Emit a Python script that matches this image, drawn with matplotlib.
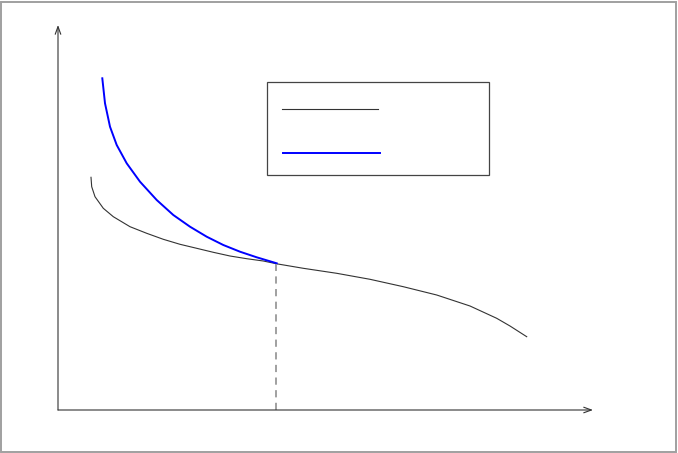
import matplotlib
matplotlib.use("Agg")
from matplotlib import pyplot as plt
from matplotlib.patches import Rectangle

# curve samples (x to the right of the origin, y up from it)
black_x = [33, 33.7, 37, 45.3, 55.3, 72, 88.7, 105.3, 122, 138.7, 155.3, 172, 188.7, 205.3,
           218.7, 245.3, 278.7, 312, 345.3, 378.7, 412, 438.7, 452, 468.7]
black_y = [232.7, 223.3, 213.3, 201.7, 193.3, 183.3, 176.7, 170.7, 165.7, 161.7, 157.7, 154, 151.3, 149,
           146.2, 141.7, 136.7, 130.7, 123.3, 115, 104, 91.7, 84, 73.3]
blue_x = [44.3, 47, 52, 58.7, 68.7, 82, 98.7, 115.3, 132, 148.7, 165.3, 182, 198.7, 218.7]
blue_y = [331.7, 306.7, 283.3, 265, 246.7, 228.3, 210, 195, 183.3, 173.3, 165, 158.3, 152.7, 146.7]
split_x = 218
x_end = 535
y_end = 385

fig = plt.figure(figsize=(6.78, 4.53), dpi=100)
ax = fig.add_axes([0, 0, 1, 1])
ax.set_xlim(-58, 620)
ax.set_ylim(-43, 410)
ax.axis("off")

# outer frame
fig.patches.append(Rectangle((0.5 / 678, 1.5 / 453), 675.5 / 678, 449.5 / 453,
                             transform=fig.transFigure, fill=False,
                             edgecolor="#a0a0a0", linewidth=1.4))

# axes with arrows
arrow = dict(arrowstyle="->,head_length=0.55,head_width=0.2", color="#333333",
             linewidth=0.8, shrinkA=0, shrinkB=0)
ax.annotate("", xy=(x_end, 0), xytext=(0, 0), arrowprops=arrow)
ax.annotate("", xy=(0, y_end), xytext=(0, 0), arrowprops=arrow)

ax.plot(black_x, black_y, color="#333333", linewidth=0.8)
ax.plot(blue_x, blue_y, color="#0000ff", linewidth=1.4)
ax.plot([split_x, split_x], [0, black_y[14]], color="#999999", linewidth=1.3,
        linestyle=(0, (4, 3)))

# legend box (no text)
px = lambda x, y: (x - 58, 410 - y)
ax.add_patch(Rectangle(px(267, 175), 222, 93, fill=False, edgecolor="#444444", linewidth=0.9))
ax.plot(*zip(px(282, 109), px(378, 109)), color="#333333", linewidth=0.8)
ax.plot(*zip(px(283, 153), px(380, 153)), color="#0000ff", linewidth=1.4)

fig.savefig("out.png", dpi=100)
